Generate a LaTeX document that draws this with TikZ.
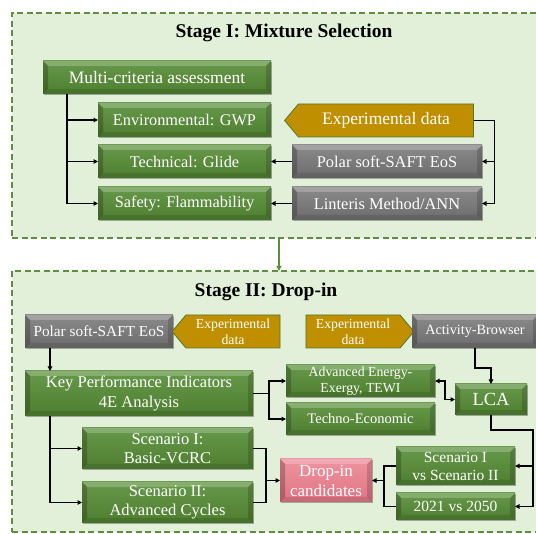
\documentclass[tikz,border=0pt]{standalone}
\usepackage{fontspec}
\setmainfont{Liberation Serif}
\usetikzlibrary{shapes.symbols,shadows,arrows.meta}
\definecolor{cBg}{HTML}{E2F0D9}
\definecolor{cDash}{HTML}{5E8F3E}
\definecolor{cGreenT}{HTML}{67994A}
\definecolor{cGreenB}{HTML}{4E7E30}
\definecolor{cGrayT}{HTML}{8A8A8A}
\definecolor{cGrayB}{HTML}{6C6C6C}
\definecolor{cPinkT}{HTML}{EE949F}
\definecolor{cPinkB}{HTML}{E07383}
\definecolor{cGold}{HTML}{BF8F00}
\definecolor{cGoldEdge}{HTML}{4F7A2E}
\newcommand{\fsz}[2]{\fontsize{#1}{#2}\selectfont}
\tikzset{
  stagebox/.style={draw=cDash, fill=cBg, dash pattern=on 6pt off 3.5pt, line width=1.4pt, inner sep=0pt, outer sep=0pt},
  bevel/.style={path picture={
    \path (path picture bounding box.north west) coordinate (pNW)
          (path picture bounding box.north east) coordinate (pNE)
          (path picture bounding box.south west) coordinate (pSW)
          (path picture bounding box.south east) coordinate (pSE);
    \fill[white,opacity=.22] (pNW) -- (pNE) -- ([shift={(-#1,-#1)}]pNE) -- ([shift={(#1,-#1)}]pNW) -- cycle;
    \fill[black,opacity=.22] (pNW) -- (pSW) -- ([shift={(#1,#1)}]pSW) -- ([shift={(#1,-#1)}]pNW) -- cycle;
    \fill[black,opacity=.16] (pNE) -- (pSE) -- ([shift={(-#1,#1)}]pSE) -- ([shift={(-#1,-#1)}]pNE) -- cycle;
    \fill[black,opacity=.10] (pSW) -- (pSE) -- ([shift={(-#1,#1)}]pSE) -- ([shift={(#1,#1)}]pSW) -- cycle;
  }},
  bevel/.default=5pt,
  boxbase/.style={rectangle, inner sep=1pt, outer sep=0pt, text=white, align=center,
    drop shadow={shadow xshift=1.2pt, shadow yshift=-1.5pt, opacity=0.3, fill=black}},
  greenbox/.style={boxbase, top color=cGreenT, bottom color=cGreenB, bevel},
  graybox/.style={boxbase, top color=cGrayT, bottom color=cGrayB, bevel},
  pinkbox/.style={boxbase, top color=cPinkT, bottom color=cPinkB, bevel},
  goldsig/.style={signal, draw=cGoldEdge, line width=0.8pt, fill=cGold, text=white,
    inner sep=1pt, outer sep=0pt, signal pointer angle=100, align=center},
  titlenode/.style={font=\fsz{19.5}{23}\bfseries, text=black, inner sep=0pt},
  arr/.style={-{Triangle[length=4.5pt,width=4.5pt]}, line width=1.3pt, draw=black},
  line/.style={line width=1.3pt, draw=black},
  darr/.style={{Triangle[length=4.5pt,width=4.5pt]}-{Triangle[length=4.5pt,width=4.5pt]}, line width=1.3pt, draw=black},
  garr/.style={-{Triangle[length=5pt,width=5pt]}, line width=1.2pt, draw=cDash},
}
\begin{document}
\begin{tikzpicture}[x=1pt,y=-1pt]
\useasboundingbox (0,0) rectangle (536,534);
% stage frames
\node[stagebox, minimum width=558pt, minimum height=225pt] (S1) at (291,125.5) {};
\node[stagebox, minimum width=558pt, minimum height=261pt] (S2) at (291,401.5) {};
\draw[garr] (S1.south) ++(-12,0) -- ([xshift=-12pt]S2.north);
\node[titlenode] (T1) at (284,33) {Stage I: Mixture Selection};
\node[titlenode] (T2) at (266,292) {Stage II: Drop-in};

% ---------- Stage I ----------
\node[greenbox, minimum width=228pt, minimum height=33pt, font=\fsz{17.5}{20}] (MC) at (157,77.5) {Multi-criteria assessment};
\node[greenbox, minimum width=173pt, minimum height=34pt, font=\fsz{16.3}{19}] (ENV) at (184.5,120) {Environmental: GWP};
\node[greenbox, minimum width=173pt, minimum height=33pt, font=\fsz{16.3}{19}] (TECH) at (184.5,161.5) {Technical: Glide};
\node[greenbox, minimum width=173pt, minimum height=33pt, font=\fsz{16.3}{19}] (SAFE) at (184.5,203.5) {Safety: Flammability};
\node[goldsig, signal to=west, minimum width=189pt, minimum height=33pt, font=\fsz{17.5}{20}] (EXP1) at (386,120.5) {Experimental data};
\node[graybox, minimum width=190pt, minimum height=33pt, font=\fsz{16.4}{19}] (POL1) at (387,161.5) {Polar soft-SAFT EoS};
\node[graybox, minimum width=190pt, minimum height=33pt, font=\fsz{16.4}{19}] (LIN1) at (387,203.5) {Linteris Method/ANN};

\draw[arr] (MC.south west) ++(24,0) |- (ENV.west);
\draw[arr] (MC.south west) ++(24,0) |- (TECH.west);
\draw[arr] (MC.south west) ++(24,0) |- (SAFE.west);
\draw[arr] (EXP1.east) -- ++(21,0) |- (POL1.east);
\draw[arr] (EXP1.east) ++(21,0) |- (LIN1.east);
\draw[arr] (POL1.west) -- (TECH.east);
\draw[arr] (LIN1.west) -- (SAFE.east);

% ---------- Stage II ----------
\node[graybox, minimum width=148pt, minimum height=33pt, font=\fsz{15.3}{18}] (POL2) at (99,331.5) {Polar soft-SAFT EoS};
\node[goldsig, signal to=west, minimum width=108pt, minimum height=33pt, font=\fsz{13.8}{16}] (EXP2a) at (233,331.5) {Experimental\\data};
\node[goldsig, signal to=east, minimum width=108pt, minimum height=33pt, font=\fsz{13.8}{16}] (EXP2b) at (353,331.5) {Experimental\\data};
\node[graybox, minimum width=126pt, minimum height=33pt, font=\fsz{14.2}{17}] (ACT) at (475,331.5) {Activity-Browser};
\node[greenbox, minimum width=228pt, minimum height=45pt, font=\fsz{16.5}{20}] (KPI) at (139,393.5) {Key Performance Indicators\\4E Analysis};
\node[greenbox, minimum width=149pt, minimum height=32pt, font=\fsz{13.8}{15.5}] (ADV) at (360.5,381) {Advanced Energy-\\Exergy, TEWI};
\node[greenbox, minimum width=149pt, minimum height=32pt, font=\fsz{14.5}{17}] (TEC) at (360.5,419) {Techno-Economic};
\node[greenbox, minimum width=72pt, minimum height=31pt, font=\fsz{18.5}{22}] (LCA) at (491,399.5) {LCA};
\node[greenbox, minimum width=171pt, minimum height=41pt, font=\fsz{16.5}{19.5}] (SC1) at (167.5,448.5) {Scenario I:\\Basic-VCRC};
\node[greenbox, minimum width=171pt, minimum height=41pt, font=\fsz{16.5}{19.5}] (SC2) at (167.5,502.5) {Scenario II:\\Advanced Cycles};
\node[pinkbox, minimum width=92pt, minimum height=43pt, font=\fsz{17}{20}] (DROP) at (326,480.5) {Drop-in\\candidates};
\node[greenbox, minimum width=119pt, minimum height=38pt, font=\fsz{15.5}{18}] (SVS) at (455.5,466) {Scenario I\\vs Scenario II};
\node[greenbox, minimum width=119pt, minimum height=27pt, font=\fsz{15.5}{18}] (Y21) at (455.5,506.5) {2021 vs 2050};

\draw[arr] (POL2.south west) ++(25,0) -- ([xshift=25pt]KPI.north west);
\draw[arr] (KPI.south west) ++(25,0) |- (SC1.west);
\draw[arr] (KPI.south west) ++(25,0) |- (SC2.west);
\draw[arr] (KPI.east) -- ++(16,0) |- (ADV.west);
\draw[arr] (KPI.east) ++(16,0) |- (TEC.west);
\draw[arr] (ACT.south) -- ++(0,20) -| (LCA.north);
\draw[darr] (LCA.west) -- ++(-10,0) |- (ADV.east);
\draw[arr] (LCA.south) -- ++(0,15) -| ([xshift=18pt]SVS.east) -- (SVS.east);
\draw[arr] (SVS.east) ++(18,0) |- (Y21.east);
\draw[line] (SC1.east) -- ++(13,0) |- (SC2.east);
\draw[arr] (SC1.east) ++(13,0) |- (DROP.west);
\draw[line] (SVS.west) -- ++(-12,0) |- (Y21.west);
\draw[arr] (SVS.west) ++(-12,0) |- (DROP.east);
\end{tikzpicture}
\end{document}
